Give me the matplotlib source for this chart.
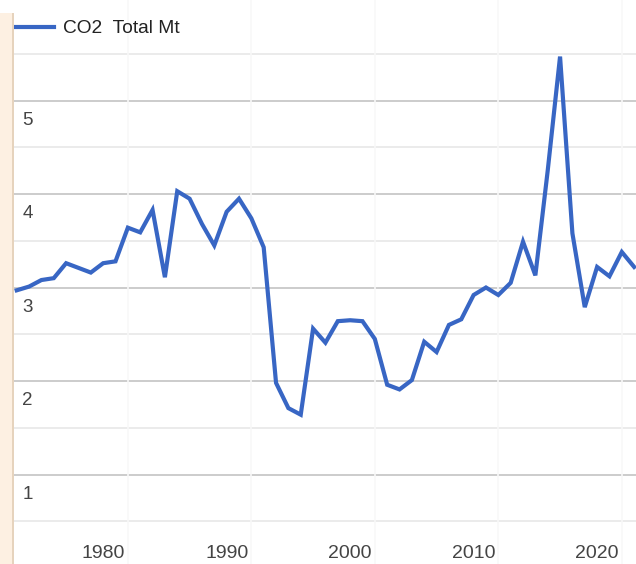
import matplotlib
matplotlib.use("Agg")
import matplotlib.pyplot as plt
from matplotlib.patches import Rectangle

# valores
anos = list(range(1973, 2024))
co2_total = [
    2.97, 3.01, 3.08, 3.10, 3.26, 3.21, 3.16, 3.26, 3.28, 3.64,
    3.59, 3.83, 3.11, 4.03, 3.95, 3.68, 3.45, 3.81, 3.95, 3.74,
    3.43, 1.98, 1.71, 1.64, 2.56, 2.41, 2.64, 2.65, 2.64, 2.45,
    1.96, 1.91, 2.01, 2.42, 2.31, 2.60, 2.66, 2.92, 3.00, 2.92,
    3.05, 3.49, 3.13, 4.25, 5.47, 3.58, 2.79, 3.22, 3.12, 3.38,
    3.22,
]
rotulos_x = [1980, 1990, 2000, 2010, 2020]
rotulos_y = [1, 2, 3, 4, 5]
linhas_menores = [0.5, 1.5, 2.5, 3.5, 4.5, 5.5]
linhas_verticais = [1982, 1992, 2002, 2012, 2022]

plt.rcParams["font.family"] = ["Liberation Sans", "DejaVu Sans"]

W, H = 636, 564
fig = plt.figure(figsize=(W / 100, H / 100), dpi=100)
ax = fig.add_axes([14 / W, 0, 1 - 14 / W, 1])

# faixa bege na esquerda
fig.patches.append(Rectangle((0, 0), 12 / W, 1 - 13 / H, transform=fig.transFigure,
                             facecolor="#fdf0e2", edgecolor="none", zorder=0))
fig.patches.append(Rectangle((12 / W, 0), 2 / W, 1 - 13 / H, transform=fig.transFigure,
                             facecolor="#e6d3bd", edgecolor="none", zorder=0))

ax.plot(anos, co2_total, color="#3866c4", linewidth=3.0, solid_joinstyle="miter",
        label="CO2  Total Mt", zorder=3)

ax.set_xlim(1972.78, 2023.15)
ax.set_ylim(0.043, 6.075)

for v in rotulos_y:
    ax.axhline(v, color="#cccccc", linewidth=1.4, zorder=1)
    ax.annotate(str(v), xy=(0, v), xycoords=ax.get_yaxis_transform(),
                xytext=(6, -8), textcoords="offset points",
                ha="left", va="top", fontsize=13.5, color="#444444")
for v in linhas_menores:
    ax.axhline(v, color="#ebebeb", linewidth=1.4, zorder=1)
for a in linhas_verticais:
    ax.axvline(a, color="#f8f8f8", linewidth=1.2, zorder=1)

ax.set_xticks(rotulos_x)
ax.set_xticklabels([str(a) for a in rotulos_x])
ax.tick_params(axis="x", direction="in", length=0, pad=-1.5, labelsize=14,
               labelcolor="#444444")
for lab in ax.get_xticklabels():
    lab.set_va("bottom")
ax.set_yticks([])

for s in ax.spines.values():
    s.set_visible(False)

ax.legend(loc="upper left", bbox_to_anchor=(0.0, 1 - 20 / H), frameon=False,
          fontsize=13.8, handlelength=2.1, handletextpad=0.45, borderpad=0,
          borderaxespad=0, labelcolor="#222222")

fig.savefig("out.png", dpi=100)
